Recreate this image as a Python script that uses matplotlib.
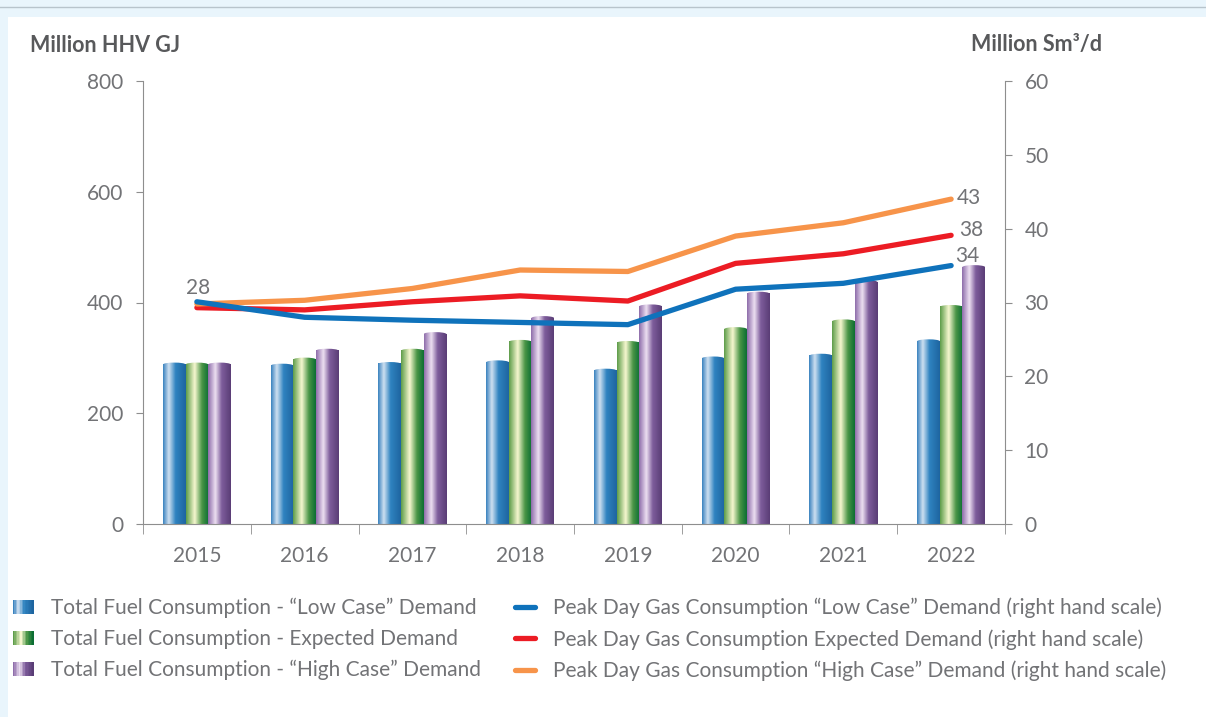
import numpy as np
import matplotlib
matplotlib.use('Agg')
import matplotlib.pyplot as plt
from matplotlib.colors import LinearSegmentedColormap
from matplotlib.patches import Rectangle, Ellipse
from matplotlib.lines import Line2D
from matplotlib.legend_handler import HandlerBase

# data
years = ['2015', '2016', '2017', '2018', '2019', '2020', '2021', '2022']
fuel_low = [288, 286, 289, 292, 277, 299, 304, 330]
fuel_expected = [288, 297, 313, 329, 327, 352, 366, 392]
fuel_high = [288, 313, 343, 372, 393, 416, 437, 464]
peak_low = [30.1, 28.0, 27.6, 27.3, 27.0, 31.8, 32.6, 35.0]
peak_expected = [29.3, 29.0, 30.1, 30.9, 30.2, 35.3, 36.6, 39.1]
peak_high = [29.8, 30.3, 31.9, 34.4, 34.2, 39.0, 40.8, 44.0]
label_first = '28'
label_low_end = '34'
label_exp_end = '38'
label_high_end = '43'

bar_names = ['Total Fuel Consumption - \u201cLow Case\u201d Demand',
             'Total Fuel Consumption - Expected Demand',
             'Total Fuel Consumption - \u201cHigh Case\u201d Demand']
line_names = ['Peak Day Gas Consumption \u201cLow Case\u201d Demand (right hand scale)',
              'Peak Day Gas Consumption Expected Demand (right hand scale)',
              'Peak Day Gas Consumption \u201cHigh Case\u201d Demand (right hand scale)']

GREY = '#727376'
AXC = '#8e8e8e'
plt.rcParams['font.family'] = ['Lato', 'DejaVu Sans']

cm_blue = LinearSegmentedColormap.from_list('b', [(0, '#3b83bf'), (0.25, '#cfe0f1'), (0.55, '#2f83c0'), (1, '#1e65a0')])
cm_green = LinearSegmentedColormap.from_list('g', [(0, '#5e9d4a'), (0.38, '#f6f7cf'), (0.7, '#4a9546'), (1, '#0c6e33')])
cm_purple = LinearSegmentedColormap.from_list('p', [(0, '#8f6eab'), (0.32, '#ecdff1'), (0.6, '#7e5d9c'), (1, '#5a3d76')])
cmaps = [cm_blue, cm_green, cm_purple]
grad = np.linspace(0, 1, 64).reshape(1, -1)


class GradHandler(HandlerBase):
    def __init__(self, cmap):
        super().__init__()
        self.cmap = cmap

    def create_artists(self, legend, orig_handle, xdescent, ydescent, width, height, fontsize, trans):
        n = 14
        w = width
        h = height * 0.95
        out = []
        for i in range(n):
            r = Rectangle((-xdescent + i * w / n, -ydescent + (height - h) / 2), w / n + 0.3, h,
                          facecolor=self.cmap(i / (n - 1)), edgecolor='none', transform=trans)
            out.append(r)
        return out


fig = plt.figure(figsize=(12.06, 7.17), dpi=100)
fig.patch.set_facecolor('#e9f5fc')
fig.add_artist(Rectangle((8 / 1206, 0), 1, 1 - 17 / 717, transform=fig.transFigure,
                         facecolor='white', edgecolor='none', zorder=0))
fig.add_artist(Line2D([0, 1], [1 - 7 / 717] * 2, transform=fig.transFigure, color='#b8c4cc', lw=1))

ax = fig.add_axes([143 / 1206, 193 / 717, 862 / 1206, 443 / 717])
x = np.arange(len(years))
bw = 0.21
cap = 7
for vals, off, cmap in zip([fuel_low, fuel_expected, fuel_high], [-bw, 0, bw], cmaps):
    cont = ax.bar(x + off, vals, bw, color=cmap(0.6), zorder=1)
    for rect in cont:
        x0, w, h = rect.get_x(), rect.get_width(), rect.get_height()
        rect.set_alpha(0)
        ax.imshow(grad, cmap=cmap, extent=(x0, x0 + w, 0, h), aspect='auto', zorder=2, interpolation='bilinear')
        el = Ellipse((x0 + w / 2, h), w, cap, transform=ax.transData)
        im = ax.imshow(grad, cmap=cmap, extent=(x0, x0 + w, h - cap, h + cap), aspect='auto', zorder=2,
                       interpolation='bilinear')
        im.set_clip_path(el)

ax.set_xlim(-0.5, 7.5)
ax.set_ylim(0, 800)
ax.set_yticks([0, 200, 400, 600, 800])
ax.set_xticks(x, years)
ax.set_xticks(np.arange(-0.5, 8, 1), minor=True)
ax.tick_params(axis='x', which='major', length=0, pad=16, labelsize=15, labelcolor=GREY)
ax.tick_params(axis='x', which='minor', length=7, color=AXC)
ax.tick_params(axis='y', length=5, color=AXC, pad=9, labelsize=15, labelcolor=GREY)
for s in ['top', 'right']:
    ax.spines[s].set_visible(False)
for s in ['left', 'bottom']:
    ax.spines[s].set_color(AXC)

ax2 = ax.twinx()
ax2.set_ylim(0, 60)
ax2.set_yticks(range(0, 61, 10))
ax2.tick_params(axis='y', length=5, color=AXC, pad=9, labelsize=15, labelcolor=GREY)
for s in ['top', 'left', 'bottom']:
    ax2.spines[s].set_visible(False)
ax2.spines['right'].set_color(AXC)

line_cols = ['#0f72bb', '#ec1c24', '#f7944a']
line_handles = []
for vals, col, name in zip([peak_low, peak_expected, peak_high], line_cols, line_names):
    ln, = ax2.plot(x, vals, color=col, lw=3.8, solid_capstyle='round', solid_joinstyle='round', label=name)
    line_handles.append(ln)
line_handles[0].set_zorder(3)

ax2.annotate(label_first, (x[0], peak_low[0]), xytext=(1, 3), textcoords='offset points',
             ha='center', va='bottom', fontsize=15, color=GREY)
ax2.annotate(label_high_end, (x[-1], peak_high[-1]), xytext=(4, 1), textcoords='offset points',
             ha='left', va='center', fontsize=15, color=GREY)
ax2.annotate(label_exp_end, (x[-1], peak_expected[-1]), xytext=(6, 4), textcoords='offset points',
             ha='left', va='center', fontsize=15, color=GREY)
ax2.annotate(label_low_end, (x[-1], peak_low[-1]), xytext=(3, 7), textcoords='offset points',
             ha='left', va='center', fontsize=15, color=GREY)

fig.text(30 / 1206, 1 - 45 / 717, 'Million HHV GJ', fontsize=15.5, fontweight='bold', color='#58595b', va='center')
fig.text(1102 / 1206, 1 - 45 / 717, 'Million Sm\u00b3/d', fontsize=15.5, fontweight='bold', color='#58595b',
         va='center', ha='right')

bar_handles = [Rectangle((0, 0), 1, 1, facecolor=c(0.6)) for c in cmaps]
hmap = {h: GradHandler(c) for h, c in zip(bar_handles, cmaps)}
fig.legend(bar_handles + line_handles, bar_names + line_names, ncol=2, loc='upper left',
           bbox_to_anchor=(-6 / 1206, 1 - 579 / 717), frameon=False, fontsize=15, labelcolor=GREY,
           handler_map=hmap, handlelength=1.0, handletextpad=0.85, columnspacing=1.6, labelspacing=0.52)

fig.savefig('out.png', dpi=100, facecolor=fig.get_facecolor())
